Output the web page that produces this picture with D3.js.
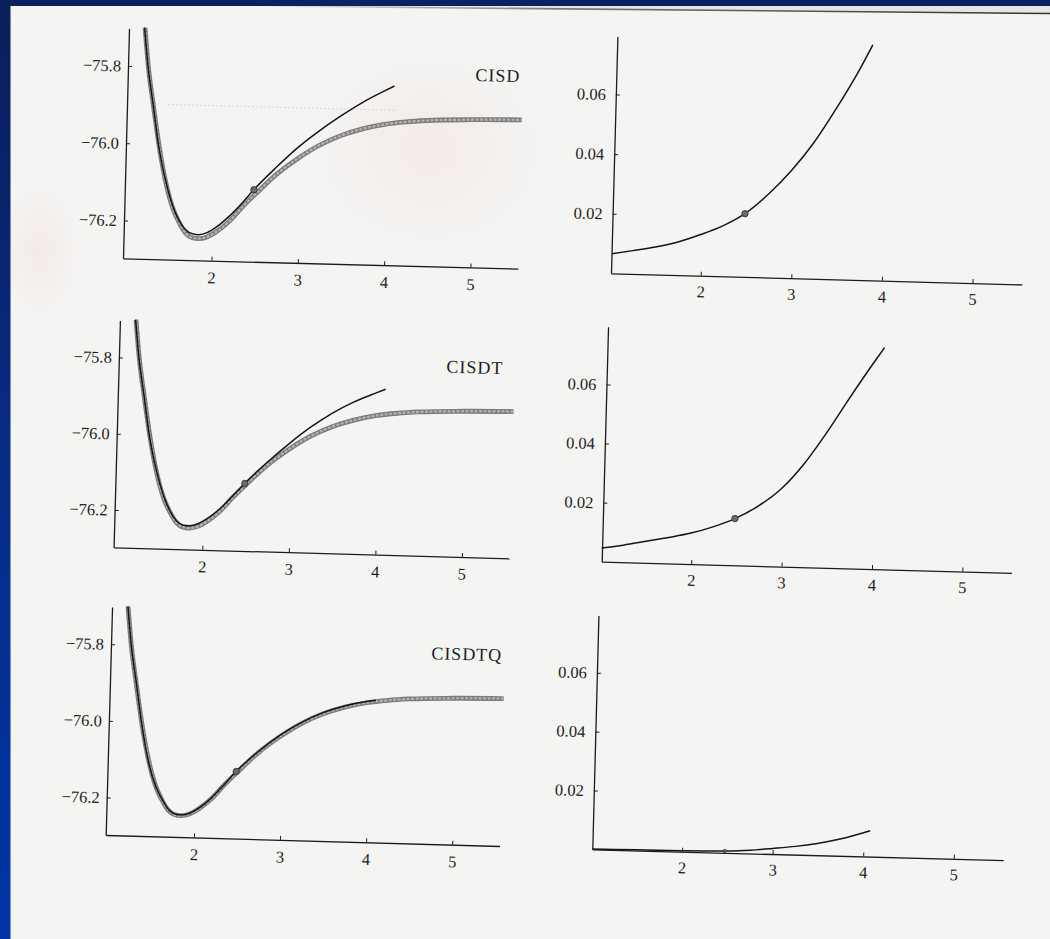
<!DOCTYPE html>
<html>
<head>
<meta charset="utf-8">
<script src="https://cdn.jsdelivr.net/npm/d3@7"></script>
<style>
  html, body { margin: 0; padding: 0; background: #f4f4f2; }
  svg { display: block; }
  .tick text, .method { font-family: "Liberation Serif", "DejaVu Serif", serif; fill: #1e1e1e; }
</style>
</head>
<body>
<svg id="chart" width="1050" height="939"></svg>
<script>
// Ticks
const rTicks = [2, 3, 4, 5];
const energyTicks = [-75.8, -76.0, -76.2];
const errorTicks = [0.02, 0.04, 0.06];
const methods = ["CISD", "CISDT", "CISDTQ"];

// Curva exacta (full CI), r en bohr, E en hartree
const fullCI = [
  [1.16, -75.70], [1.21, -75.80], [1.28, -75.90], [1.355, -76.00], [1.46, -76.11],
  [1.545, -76.17], [1.61, -76.20], [1.69, -76.228], [1.77, -76.240], [1.84, -76.242],
  [1.94, -76.237], [2.04, -76.224], [2.19, -76.196], [2.33, -76.160], [2.48, -76.125],
  [2.72, -76.072], [2.97, -76.028], [3.21, -75.993], [3.46, -75.966], [3.71, -75.947],
  [3.96, -75.934], [4.21, -75.926], [4.46, -75.921], [4.96, -75.916], [5.55, -75.913]
];

// Curvas CI truncadas
const cisd = [
  [1.156, -75.70], [1.207, -75.80], [1.279, -75.90], [1.35, -76.00], [1.452, -76.10],
  [1.536, -76.16], [1.608, -76.195], [1.691, -76.220], [1.773, -76.230], [1.843, -76.232],
  [1.942, -76.226], [2.04, -76.212], [2.187, -76.183], [2.333, -76.148], [2.468, -76.112],
  [2.72, -76.053], [2.965, -76.000], [3.21, -75.955], [3.455, -75.915], [3.70, -75.879],
  [3.948, -75.848], [4.066, -75.834]
];
const cisdt = [
  [1.156, -75.70], [1.207, -75.80], [1.279, -75.90], [1.35, -76.00], [1.452, -76.10],
  [1.536, -76.16], [1.61, -76.197], [1.692, -76.224], [1.773, -76.235], [1.843, -76.236],
  [1.942, -76.230], [2.04, -76.217], [2.187, -76.190], [2.333, -76.155], [2.468, -76.121],
  [2.722, -76.064], [2.967, -76.014], [3.212, -75.969], [3.455, -75.931], [3.70, -75.900],
  [3.95, -75.875], [4.066, -75.864]
];
const cisdtq = [
  [1.159, -75.70], [1.21, -75.80], [1.282, -75.90], [1.353, -76.00], [1.455, -76.11],
  [1.541, -76.168], [1.61, -76.198], [1.692, -76.226], [1.773, -76.238], [1.843, -76.240],
  [1.943, -76.235], [2.042, -76.222], [2.188, -76.194], [2.333, -76.158], [2.468, -76.123],
  [2.722, -76.069], [2.968, -76.025], [3.215, -75.990], [3.46, -75.963], [3.707, -75.944],
  [3.958, -75.931], [4.068, -75.927]
];

// Errores respecto a full CI
const errCisd = [
  [1.014, 0.0066], [1.243, 0.0078], [1.492, 0.0092], [1.74, 0.0111], [1.988, 0.0138],
  [2.235, 0.0170], [2.47, 0.0212], [2.725, 0.0280], [2.968, 0.0360], [3.21, 0.0457],
  [3.45, 0.0575], [3.69, 0.0705], [3.83, 0.0790]
];
const errCisdt = [
  [1.005, 0.0046], [1.245, 0.0058], [1.494, 0.0073], [1.742, 0.0088], [1.99, 0.0105],
  [2.229, 0.0128], [2.47, 0.0158], [2.732, 0.0204], [2.977, 0.0264], [3.22, 0.0350],
  [3.46, 0.0457], [3.70, 0.0575], [3.94, 0.0689], [4.074, 0.0750]
];
const errCisdtq = [
  [1.01, 0.0001], [1.50, 0.0002], [2.00, 0.0003], [2.47, 0.0006], [2.75, 0.0011],
  [3.00, 0.0019], [3.25, 0.0028], [3.49, 0.0040], [3.74, 0.0057], [4.07, 0.0088]
];

// Punto marcado (geometria de referencia)
const markR = 2.47;
const markE = [-76.112, -76.121, -76.123];
const markErr = [0.0212, 0.0158, 0.0006];

const energyCurves = [cisd, cisdt, cisdtq];
const errorCurves = [errCisd, errCisdt, errCisdtq];

// Dominios de los ejes
const rDomainLeft = [0.975, 5.55];
const rDomainRight = [1.01, 5.545];
const energyDomain = [-76.298, -75.703];
const errorDomain = [0, 0.0795];

// Posicion de cada panel (esquina de los ejes) y giro del escaneo
const panels = [
  { kind: "energy", m: 0, x: 123,   y: 258.3, w: 395, h: 230, rot: 1.5,  labelR: 5.52 },
  { kind: "error",  m: 0, x: 611,   y: 273.3, w: 411, h: 237, rot: 1.55 },
  { kind: "energy", m: 1, x: 113.6, y: 547.3, w: 396, h: 227, rot: 1.6,  labelR: 5.42 },
  { kind: "error",  m: 1, x: 601.7, y: 561.7, w: 410, h: 235, rot: 1.55 },
  { kind: "energy", m: 2, x: 105.7, y: 835,   w: 394, h: 228, rot: 1.6,  labelR: 5.52 },
  { kind: "error",  m: 2, x: 592.3, y: 849.3, w: 411, h: 234, rot: 1.5 }
];

const svg = d3.select("#chart");
const defs = svg.append("defs");

// Fondo: papel escaneado con marco azul
const blush = defs.append("radialGradient").attr("id", "blush");
blush.append("stop").attr("offset", "0%").attr("stop-color", "rgb(240,212,212)").attr("stop-opacity", 0.32);
blush.append("stop").attr("offset", "100%").attr("stop-color", "rgb(240,212,212)").attr("stop-opacity", 0);

const sideBlue = defs.append("linearGradient").attr("id", "sideBlue")
  .attr("x1", 0).attr("y1", 0).attr("x2", 0).attr("y2", 1);
sideBlue.append("stop").attr("offset", "0%").attr("stop-color", "#0b1f5a");
sideBlue.append("stop").attr("offset", "50%").attr("stop-color", "#072c86");
sideBlue.append("stop").attr("offset", "100%").attr("stop-color", "#0036a8");

const edgeFade = defs.append("linearGradient").attr("id", "edgeFade")
  .attr("x1", 0).attr("y1", 0).attr("x2", 1).attr("y2", 0);
edgeFade.append("stop").attr("offset", "0%").attr("stop-color", "#444").attr("stop-opacity", 0);
edgeFade.append("stop").attr("offset", "40%").attr("stop-color", "#444").attr("stop-opacity", 0.7);
edgeFade.append("stop").attr("offset", "100%").attr("stop-color", "#333").attr("stop-opacity", 1);

svg.append("rect").attr("width", 1050).attr("height", 939).attr("fill", "#f4f4f2");
svg.append("ellipse").attr("cx", 430).attr("cy", 150).attr("rx", 120).attr("ry", 100).attr("fill", "url(#blush)");
svg.append("ellipse").attr("cx", 40).attr("cy", 250).attr("rx", 40).attr("ry", 70).attr("fill", "url(#blush)");

svg.append("path")
  .attr("d", "M250,6 L1050,6 L1050,14 Z")
  .attr("fill", "#e4e5e8");
svg.append("path")
  .attr("d", "M250,6 L1050,13.5")
  .attr("stroke", "url(#edgeFade)").attr("stroke-width", 1.6).attr("fill", "none");
svg.append("rect").attr("x", 0).attr("y", 0).attr("width", 1050).attr("height", 6).attr("fill", "#0b2260");
svg.append("rect").attr("x", 0).attr("y", 0).attr("width", 10.5).attr("height", 939).attr("fill", "url(#sideBlue)");

// Dibujar un panel
function drawPanel(p) {
  const isEnergy = p.kind === "energy";
  const x = d3.scaleLinear().domain(isEnergy ? rDomainLeft : rDomainRight).range([0, p.w]);
  const y = d3.scaleLinear().domain(isEnergy ? energyDomain : errorDomain).range([0, -p.h]);

  const g = svg.append("g").attr("transform", `translate(${p.x},${p.y}) rotate(${p.rot})`);

  const xAxis = d3.axisBottom(x).tickValues(rTicks).tickFormat(d3.format("d"))
    .tickSizeInner(-4).tickSizeOuter(0).tickPadding(isEnergy ? 11 : 10);
  const yAxis = d3.axisLeft(y).tickValues(isEnergy ? energyTicks : errorTicks)
    .tickFormat(d3.format(isEnergy ? ".1f" : ".2f"))
    .tickSizeInner(-4).tickSizeOuter(0).tickPadding(isEnergy ? 7 : 10);

  const styleAxis = a => a
    .call(s => s.select(".domain").attr("stroke", "#1c1c1c").attr("stroke-width", 1.3))
    .call(s => s.selectAll(".tick line").attr("stroke", "#1c1c1c").attr("stroke-width", 1))
    .call(s => s.selectAll(".tick text").attr("font-size", 16.5).attr("fill", "#1e1e1e")
      .attr("font-family", "'Liberation Serif', 'DejaVu Serif', serif"));

  g.append("g").call(xAxis).call(styleAxis);
  g.append("g").call(yAxis).call(styleAxis);

  const line = d3.line().x(d => x(d[0])).y(d => y(d[1])).curve(d3.curveMonotoneX);

  if (isEnergy) {
    // Curva exacta: banda gris gruesa
    g.append("path").datum(fullCI).attr("d", line)
      .attr("fill", "none").attr("stroke", "#7c7c7c").attr("stroke-width", 4.8)
      .attr("stroke-linecap", "butt");
    g.append("path").datum(fullCI).attr("d", line)
      .attr("fill", "none").attr("stroke", "#b4b4b4").attr("stroke-width", 2.2)
      .attr("stroke-dasharray", "3,1.5");
    g.append("path").datum(energyCurves[p.m]).attr("d", line)
      .attr("fill", "none").attr("stroke", "#151515").attr("stroke-width", 1.5);
    g.append("circle").attr("cx", x(markR)).attr("cy", y(markE[p.m])).attr("r", 3.2)
      .attr("fill", "#6a6a6a").attr("stroke", "#2a2a2a").attr("stroke-width", 0.8);
    g.append("text").attr("class", "method")
      .attr("x", x(p.labelR)).attr("y", y(-75.8))
      .attr("text-anchor", "end").attr("dominant-baseline", "central")
      .attr("font-size", 18).attr("letter-spacing", 1)
      .text(methods[p.m]);
  } else {
    g.append("path").datum(errorCurves[p.m]).attr("d", line)
      .attr("fill", "none").attr("stroke", "#151515").attr("stroke-width", 1.5);
    g.append("circle").attr("cx", x(markR)).attr("cy", y(markErr[p.m]))
      .attr("r", p.m === 2 ? 1.6 : 3.2)
      .attr("fill", "#6a6a6a").attr("stroke", "#2a2a2a").attr("stroke-width", 0.8);
  }
  return { g, x, y };
}

const drawn = panels.map(drawPanel);

// Traza tenue del escaneo en el primer panel
const p0 = drawn[0];
p0.g.append("line")
  .attr("x1", p0.x(1.45)).attr("x2", p0.x(4.1))
  .attr("y1", p0.y(-75.897)).attr("y2", p0.y(-75.897))
  .attr("stroke", "#a0a0a0").attr("stroke-width", 0.8)
  .attr("stroke-dasharray", "2,2").attr("opacity", 0.4);
</script>
</body>
</html>
